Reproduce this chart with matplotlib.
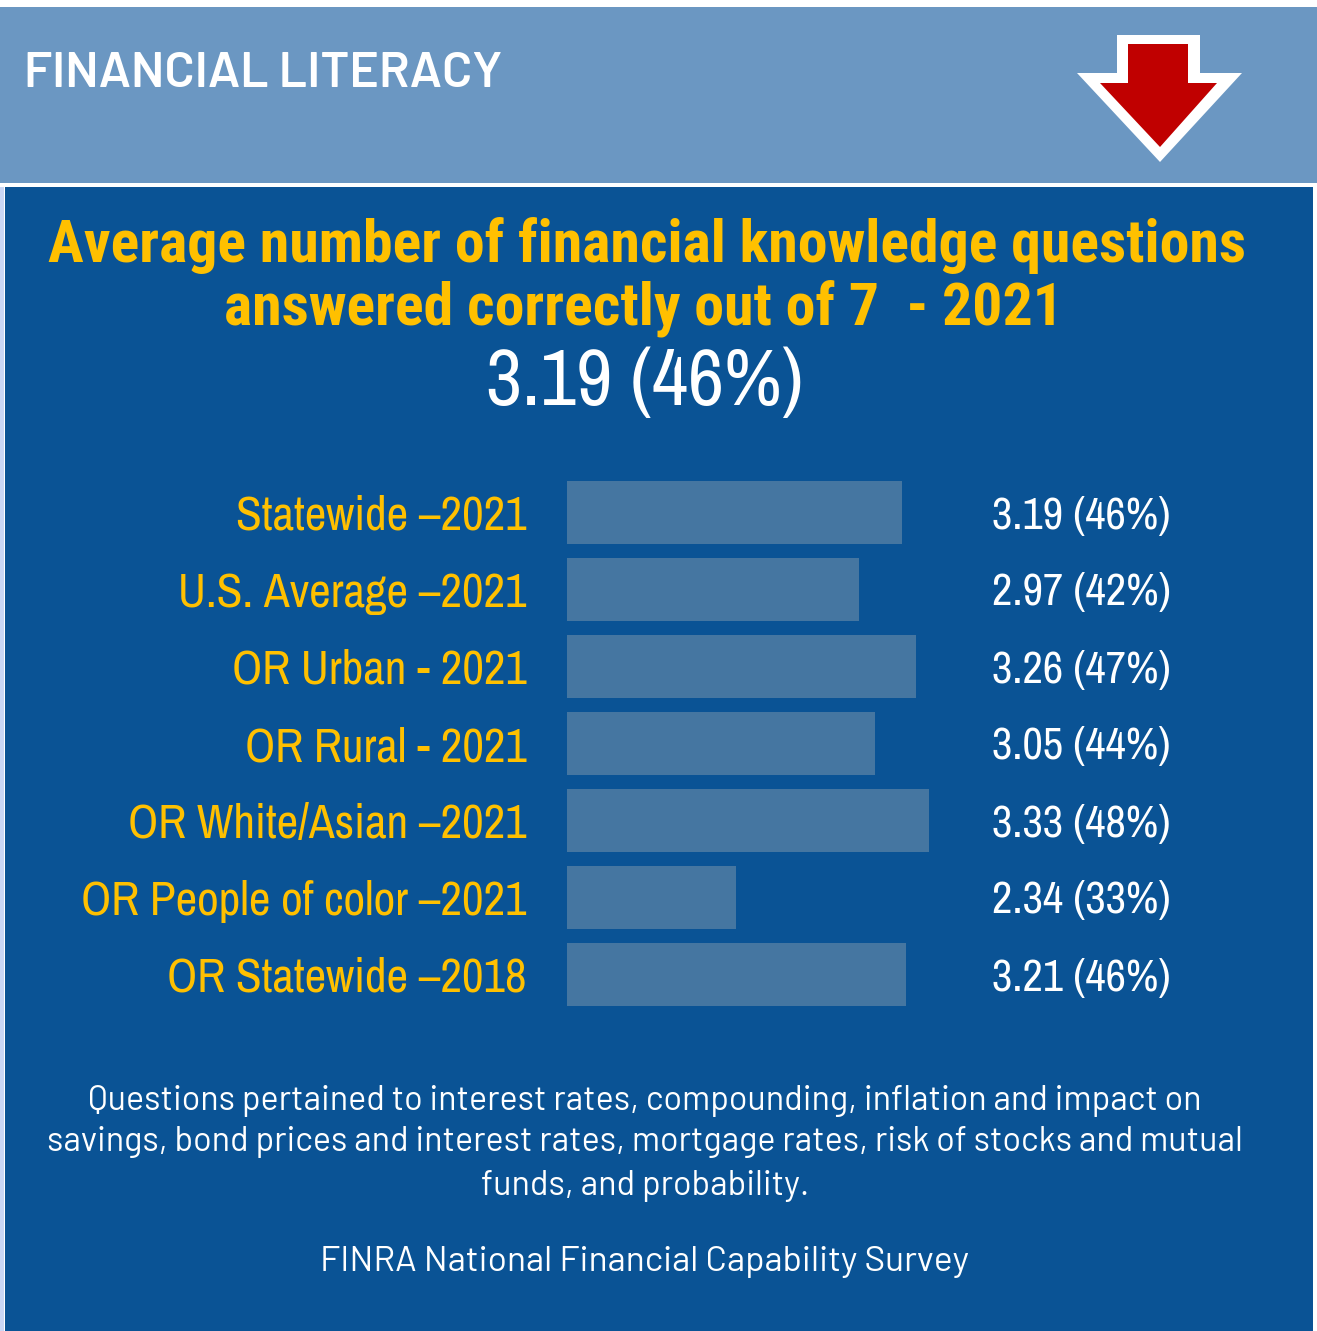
import matplotlib
matplotlib.use("Agg")
import matplotlib.pyplot as plt
from matplotlib.patches import Rectangle, Polygon
from matplotlib import font_manager as fm

# ---------------- data ----------------
categories = ["Statewide \u20132021", "U.S. Average \u20132021", "OR Urban - 2021",
              "OR Rural - 2021", "OR White/Asian \u20132021", "OR People of color \u20132021",
              "OR Statewide \u20132018"]
scores = [3.19, 2.97, 3.26, 3.05, 3.33, 2.34, 3.21]
percents = [46, 42, 47, 44, 48, 33, 46]
headline_score = 3.19
headline_pct = 46
title_lines = ["Average number of financial knowledge questions",
               "answered correctly out of 7  - 2021"]
foot_lines = ["Questions pertained to interest rates, compounding, inflation and impact on",
              "savings, bond prices and interest rates, mortgage rates, risk of stocks and mutual",
              "funds, and probability."]
source = "FINRA National Financial Capability Survey"

names = {f.name for f in fm.fontManager.ttflist}


def pick(*cands):
    for c in cands:
        if c in names:
            return [c, "DejaVu Sans"]
    return ["DejaVu Sans"]


NARROW = pick("Liberation Sans Narrow", "Archivo Narrow", "Roboto Condensed", "Asap Condensed")
NARROW_B = pick("Liberation Sans Narrow", "Roboto Condensed", "Asap Condensed", "Barlow Condensed")
LIGHT = pick("Barlow", "Barlow Semi Condensed", "Asap Condensed", "Roboto Condensed")
HEADF = pick("Barlow", "Barlow Semi Condensed", "Roboto Condensed", "Asap Condensed")

W, H = 1317, 1331
fig = plt.figure(figsize=(W / 100, H / 100), dpi=100)
fig.patch.set_facecolor("white")

HEADER = "#6B97C2"
BODY = "#0A5395"
BAR = "#4576A1"
YELLOW = "#FFC000"


def fx(px):
    return px / W


def fy(py):
    return 1 - py / H


# backgrounds
fig.patches.append(Rectangle((fx(0), fy(183)), fx(1317), 176 / H, transform=fig.transFigure,
                             facecolor=HEADER, edgecolor="none", zorder=-5))
fig.patches.append(Rectangle((fx(5), fy(1331)), fx(1308), (1331 - 187) / H, transform=fig.transFigure,
                             facecolor=BODY, edgecolor="none", zorder=-5))
fig.patches.append(Rectangle((fx(0), fy(1331)), fx(4), (1331 - 187) / H, transform=fig.transFigure,
                             facecolor="#C9D6F5", edgecolor="none", zorder=-5))

# arrow (white outline + red fill)
arrow_outer = [(1117, 35), (1200, 35), (1200, 73), (1242, 73), (1160, 162), (1077, 73), (1117, 73)]
arrow_inner = [(1128, 44), (1188, 44), (1188, 83), (1217, 83), (1160, 147), (1100, 83), (1128, 83)]
fig.patches.append(Polygon([(fx(x), fy(y)) for x, y in arrow_outer], closed=True, transform=fig.transFigure,
                           facecolor="white", edgecolor="none", zorder=2))
fig.patches.append(Polygon([(fx(x), fy(y)) for x, y in arrow_inner], closed=True, transform=fig.transFigure,
                           facecolor="#C00000", edgecolor="none", zorder=3))

# header text
fig.text(fx(24), fy(74), "FINANCIAL LITERACY", color="white", fontsize=36, fontweight="semibold",
         family=HEADF, ha="left", va="center")

# title
fig.text(fx(647), fy(245), title_lines[0], color=YELLOW,
         fontsize=43, fontweight="bold", family=NARROW_B, ha="center", va="center")
fig.text(fx(643), fy(308), title_lines[1], color=YELLOW,
         fontsize=43, fontweight="bold", family=NARROW_B, ha="center", va="center")
fig.text(fx(645), fy(383), f"{headline_score:.2f} ({headline_pct}%)", color="white",
         fontsize=57, family=NARROW, ha="center", va="center")

# bar axes
ax = fig.add_axes([fx(567), fy(1013), fx(1000 - 567), (1013 - 474) / H])
ax.set_facecolor("none")
ys = list(range(len(categories)))
ax.barh(ys, scores, height=0.82, color=BAR, zorder=1)
ax.set_xlim(1.478, 1.478 + (1000 - 567) / 195.7)
ax.set_ylim(len(categories) - 0.5, -0.5)
ax.set_yticks(ys)
ax.set_yticklabels(categories, family=NARROW, fontsize=34, color=YELLOW)
ax.tick_params(axis="y", length=0, pad=29)
ax.set_xticks([])
for s in ax.spines.values():
    s.set_visible(False)

for y, s, p in zip(ys, scores, percents):
    ax.annotate(f"{s:.2f} ({p}%)", xy=(1, y), xycoords=("axes fraction", "data"),
                xytext=(-8, -4), textcoords="offset pixels", ha="left", va="center",
                color="white", fontsize=32, family=NARROW)

# footnote
for txt, py in zip(foot_lines, [1101, 1142, 1186]):
    fig.text(fx(645), fy(py), txt, color="white", fontsize=24.5, fontweight="normal", family=LIGHT,
             ha="center", va="center")
fig.text(fx(645), fy(1262), source, color="white",
         fontsize=25.5, fontweight="normal", family=LIGHT, ha="center", va="center")

fig.savefig("out.png", dpi=100, facecolor=fig.get_facecolor())
